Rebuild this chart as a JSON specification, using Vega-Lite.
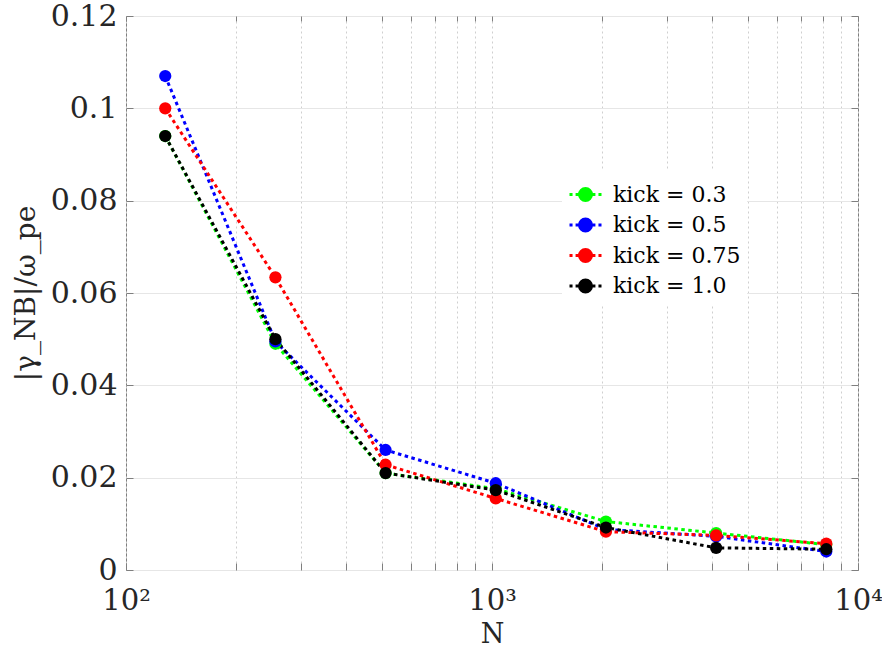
{
  "$schema": "https://vega.github.io/schema/vega-lite/v6.json",
  "autosize": "none",
  "width": 732,
  "height": 554,
  "padding": {"left": 126, "top": 16, "right": 24, "bottom": 89},
  "background": "white",
  "config": {
    "view": {"stroke": "#7f7f7f", "strokeWidth": 1},
    "font": "DejaVu Serif"
  },
  "data": {
    "values": [
      {"N": 128, "kick": "kick = 0.3", "value": 0.0940},
      {"N": 256, "kick": "kick = 0.3", "value": 0.0490},
      {"N": 512, "kick": "kick = 0.3", "value": 0.0210},
      {"N": 1024, "kick": "kick = 0.3", "value": 0.0176},
      {"N": 2048, "kick": "kick = 0.3", "value": 0.0105},
      {"N": 4096, "kick": "kick = 0.3", "value": 0.0080},
      {"N": 8192, "kick": "kick = 0.3", "value": 0.0055},
      {"N": 128, "kick": "kick = 0.5", "value": 0.1070},
      {"N": 256, "kick": "kick = 0.5", "value": 0.0495},
      {"N": 512, "kick": "kick = 0.5", "value": 0.0260},
      {"N": 1024, "kick": "kick = 0.5", "value": 0.0188},
      {"N": 2048, "kick": "kick = 0.5", "value": 0.0088},
      {"N": 4096, "kick": "kick = 0.5", "value": 0.0073},
      {"N": 8192, "kick": "kick = 0.5", "value": 0.0040},
      {"N": 128, "kick": "kick = 0.75", "value": 0.1000},
      {"N": 256, "kick": "kick = 0.75", "value": 0.0634},
      {"N": 512, "kick": "kick = 0.75", "value": 0.0228},
      {"N": 1024, "kick": "kick = 0.75", "value": 0.0155},
      {"N": 2048, "kick": "kick = 0.75", "value": 0.0083},
      {"N": 4096, "kick": "kick = 0.75", "value": 0.0075},
      {"N": 8192, "kick": "kick = 0.75", "value": 0.0057},
      {"N": 128, "kick": "kick = 1.0", "value": 0.0940},
      {"N": 256, "kick": "kick = 1.0", "value": 0.0500},
      {"N": 512, "kick": "kick = 1.0", "value": 0.0210},
      {"N": 1024, "kick": "kick = 1.0", "value": 0.0173},
      {"N": 2048, "kick": "kick = 1.0", "value": 0.0092},
      {"N": 4096, "kick": "kick = 1.0", "value": 0.0048},
      {"N": 8192, "kick": "kick = 1.0", "value": 0.0045}
    ]
  },
  "resolve": {"axis": {"x": "independent", "y": "independent"}},
  "layer": [
    {
      "mark": {"type": "line", "strokeDash": [3.5, 3.5], "strokeWidth": 3},
      "encoding": {
        "x": {
          "field": "N", "type": "quantitative",
          "scale": {"type": "log", "domain": [100, 10000], "nice": false},
          "axis": {
            "orient": "bottom", "values": [100, 1000, 10000],
            "labelExpr": "datum.value == 100 ? '10²' : datum.value == 1000 ? '10³' : '10⁴'",
            "labelFont": "DejaVu Serif", "labelFontSize": 29, "labelColor": "#262626",
            "labelPadding": 16, "labelBaseline": "top", "labelFlush": false, "labelOverlap": false,
            "ticks": false, "grid": false, "domain": false,
            "title": "N", "titleFont": "DejaVu Serif", "titleFontSize": 27, "titleFontWeight": "normal",
            "titleColor": "#262626", "titlePadding": 6
          }
        },
        "y": {
          "field": "value", "type": "quantitative",
          "scale": {"domain": [0, 0.12], "nice": false},
          "axis": {
            "orient": "left", "values": [0, 0.02, 0.04, 0.06, 0.08, 0.1, 0.12],
            "labelExpr": "format(datum.value, '.2~f')",
            "labelFont": "DejaVu Serif", "labelFontSize": 30, "labelColor": "#262626",
            "labelPadding": 9, "labelFlush": false, "labelOverlap": false,
            "ticks": false, "domain": false,
            "grid": true, "gridColor": "#e6e6e6", "gridWidth": 1,
            "title": "|γ_NB|/ω_pe", "titleFont": "DejaVu Serif", "titleFontSize": 28,
            "titleFontWeight": "normal", "titleColor": "#262626", "titlePadding": 10
          }
        },
        "color": {
          "field": "kick", "type": "nominal",
          "scale": {
            "domain": ["kick = 0.3", "kick = 0.5", "kick = 0.75", "kick = 1.0"],
            "range": ["#00ff00", "#0000ff", "#ff0000", "#000000"]
          },
          "legend": {
            "title": null, "orient": "none", "legendX": 436, "legendY": 155,
            "fillColor": "white", "strokeColor": null, "padding": 6,
            "labelFont": "DejaVu Serif", "labelFontSize": 22, "labelColor": "#000000",
            "symbolType": "M-1,0H-0.81M-0.62,0H-0.43M0.43,0H0.62M0.81,0H1M-0.375,0A0.375,0.375,0,1,0,0.375,0A0.375,0.375,0,1,0,-0.375,0Z",
            "symbolSize": 1024, "symbolStrokeWidth": 3, "symbolOpacity": 1,
            "rowPadding": 0.5, "labelOffset": 10,
            "encode": {
              "symbols": {
                "update": {
                  "fill": {"scale": "color", "field": "value"},
                  "stroke": {"scale": "color", "field": "value"},
                  "strokeWidth": {"value": 3},
                  "opacity": {"value": 1}
                }
              }
            }
          }
        }
      }
    },
    {
      "mark": {"type": "circle", "size": 150, "opacity": 1},
      "encoding": {
        "x": {
          "field": "N", "type": "quantitative",
          "scale": {"type": "log", "domain": [100, 10000], "nice": false},
          "axis": {
            "orient": "bottom",
            "values": [100, 200, 300, 400, 500, 600, 700, 800, 900, 1000, 2000, 3000, 4000, 5000, 6000, 7000, 8000, 9000, 10000],
            "labels": false, "domain": false, "title": null,
            "ticks": true, "tickSize": -7, "tickColor": "#7f7f7f", "tickWidth": 1,
            "grid": true, "gridColor": "#cfcfcf", "gridDash": [2, 3], "gridWidth": 1
          }
        },
        "y": {
          "field": "value", "type": "quantitative",
          "scale": {"domain": [0, 0.12], "nice": false},
          "axis": {
            "orient": "left", "values": [0, 0.02, 0.04, 0.06, 0.08, 0.1, 0.12],
            "labels": false, "domain": false, "title": null, "grid": false,
            "ticks": true, "tickSize": -7, "tickColor": "#7f7f7f", "tickWidth": 1
          }
        },
        "color": {
          "field": "kick", "type": "nominal",
          "scale": {
            "domain": ["kick = 0.3", "kick = 0.5", "kick = 0.75", "kick = 1.0"],
            "range": ["#00ff00", "#0000ff", "#ff0000", "#000000"]
          },
          "legend": {
            "title": null, "orient": "none", "legendX": 436, "legendY": 155,
            "fillColor": "white", "strokeColor": null, "padding": 6,
            "labelFont": "DejaVu Serif", "labelFontSize": 22, "labelColor": "#000000",
            "symbolType": "M-1,0H-0.81M-0.62,0H-0.43M0.43,0H0.62M0.81,0H1M-0.375,0A0.375,0.375,0,1,0,0.375,0A0.375,0.375,0,1,0,-0.375,0Z",
            "symbolSize": 1024, "symbolStrokeWidth": 3, "symbolOpacity": 1,
            "rowPadding": 0.5, "labelOffset": 10,
            "encode": {
              "symbols": {
                "update": {
                  "fill": {"scale": "color", "field": "value"},
                  "stroke": {"scale": "color", "field": "value"},
                  "strokeWidth": {"value": 3},
                  "opacity": {"value": 1}
                }
              }
            }
          }
        }
      }
    },
    {
      "mark": {"type": "point", "opacity": 0},
      "encoding": {
        "x": {
          "field": "N", "type": "quantitative",
          "scale": {"type": "log", "domain": [100, 10000], "nice": false},
          "axis": {
            "orient": "top",
            "values": [100, 200, 300, 400, 500, 600, 700, 800, 900, 1000, 2000, 3000, 4000, 5000, 6000, 7000, 8000, 9000, 10000],
            "labels": false, "domain": false, "title": null, "grid": false,
            "ticks": true, "tickSize": -5, "tickColor": "#7f7f7f", "tickWidth": 1
          }
        },
        "y": {
          "field": "value", "type": "quantitative",
          "scale": {"domain": [0, 0.12], "nice": false},
          "axis": {
            "orient": "right", "values": [0, 0.02, 0.04, 0.06, 0.08, 0.1, 0.12],
            "labels": false, "domain": false, "title": null, "grid": false,
            "ticks": true, "tickSize": -7, "tickColor": "#7f7f7f", "tickWidth": 1
          }
        }
      }
    }
  ]
}
